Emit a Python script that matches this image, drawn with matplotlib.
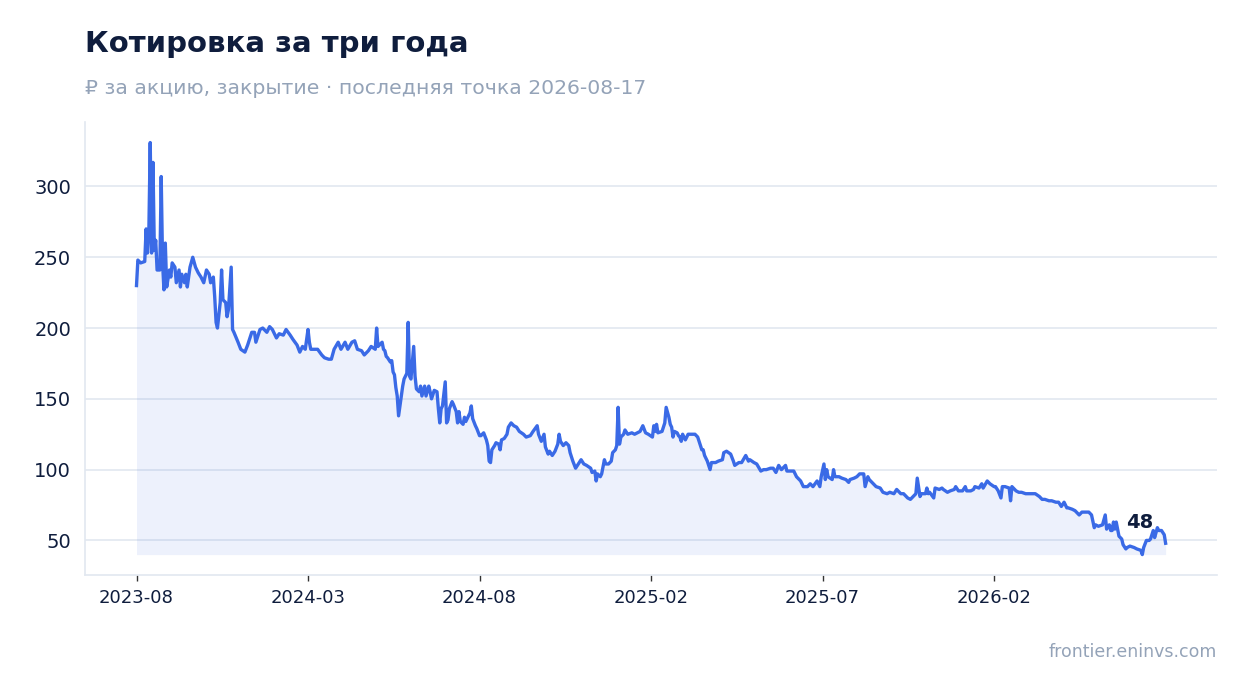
import numpy as np
import matplotlib
matplotlib.use("Agg")
import matplotlib.pyplot as plt

# торговые сессии (порядковый номер) и цена закрытия, ₽
session = [0, 1, 3, 6, 7, 8, 9, 10, 11, 12, 13, 14, 15, 17, 18, 19, 20, 21, 22, 24,
           25, 26, 28, 29, 31, 32, 33, 35, 36, 37, 39, 41, 43, 45, 47, 49, 51, 53, 54, 56,
           57, 58, 59, 61, 62, 63, 65, 66, 67, 69, 70, 71, 74, 76, 79, 81, 84, 86, 87, 90,
           92, 95, 97, 99, 102, 104, 107, 109, 112, 114, 117, 119, 121, 123, 125, 126, 127, 130, 132, 135,
           137, 140, 142, 144, 147, 149, 152, 154, 157, 159, 161, 164, 166, 169, 171, 174, 175, 176, 179, 180,
           181, 182, 183, 185, 186, 187, 188, 189, 190, 191, 193, 194, 195, 197, 198, 199, 200, 202, 203, 204,
           206, 207, 208, 210, 211, 213, 214, 215, 217, 219, 220, 221, 222, 223, 225, 226, 227, 228, 230, 231,
           233, 234, 235, 236, 238, 239, 240, 242, 243, 244, 245, 247, 248, 250, 251, 253, 255, 256, 257, 258,
           259, 261, 262, 264, 265, 266, 268, 270, 271, 273, 275, 277, 279, 282, 284, 287, 289, 292, 293, 295,
           297, 298, 300, 301, 303, 305, 307, 308, 309, 311, 313, 315, 316, 318, 320, 322, 324, 326, 328, 331,
           332, 334, 335, 336, 338, 339, 341, 342, 344, 346, 347, 349, 350, 351, 352, 353, 355, 356, 358, 361,
           363, 365, 367, 369, 371, 373, 376, 377, 378, 379, 380, 383, 385, 386, 388, 389, 390, 391, 392, 394,
           395, 396, 397, 398, 400, 402, 405, 407, 409, 412, 413, 414, 416, 417, 418, 419, 422, 424, 427, 428,
           430, 433, 435, 436, 439, 441, 444, 446, 447, 450, 452, 455, 457, 459, 462, 464, 466, 468, 470, 473,
           474, 476, 479, 481, 484, 486, 489, 491, 493, 496, 498, 499, 501, 502, 503, 504, 507, 508, 509, 512,
           514, 517, 519, 520, 523, 525, 527, 530, 531, 533, 534, 537, 539, 542, 544, 547, 549, 552, 554, 557,
           559, 562, 564, 566, 568, 569, 571, 572, 575, 576, 577, 578, 581, 582, 585, 587, 588, 591, 593, 596,
           597, 599, 602, 604, 605, 608, 610, 611, 614, 616, 617, 620, 622, 625, 626, 628, 630, 631, 633, 636,
           637, 638, 641, 643, 645, 648, 650, 653, 655, 658, 660, 662, 665, 667, 670, 672, 674, 676, 678, 679,
           682, 684, 687, 689, 692, 694, 696, 698, 699, 701, 704, 706, 707, 709, 710, 711, 712, 713, 714, 716,
           717, 718, 719, 721, 722, 724, 727, 729, 732, 733, 734, 736, 738, 739, 741, 742, 744, 745, 747, 749,
           750]
close = [230, 248, 246, 247, 270, 253, 268, 331, 253, 317, 255, 262, 241, 241, 307, 246, 227, 260, 229, 241,
         236, 246, 243, 232, 241, 229, 238, 232, 238, 229, 243, 250, 243, 239, 236, 232, 241, 238, 232, 236,
         222, 204, 200, 218, 241, 220, 218, 208, 213, 243, 199, 197, 190, 185, 183, 188, 197, 197, 190, 199,
         200, 197, 201, 199, 193, 196, 195, 199, 195, 192, 188, 183, 187, 185, 199, 190, 185, 185, 185, 181,
         179, 178, 178, 185, 190, 185, 190, 185, 190, 191, 185, 184, 181, 184, 187, 185, 200, 187, 190, 185,
         184, 180, 179, 176, 177, 169, 167, 158, 152, 138, 152, 159, 164, 168, 204, 166, 164, 187, 166, 157,
         155, 159, 152, 159, 152, 159, 155, 150, 156, 155, 143, 133, 143, 145, 162, 133, 135, 143, 148, 146,
         141, 133, 141, 134, 132, 137, 134, 138, 140, 145, 136, 131, 129, 124, 124, 126, 121, 117, 106, 105,
         114, 117, 119, 118, 114, 121, 122, 125, 130, 133, 131, 130, 127, 125, 123, 124, 127, 131, 125, 120,
         125, 116, 111, 113, 110, 113, 118, 125, 120, 117, 119, 117, 112, 106, 101, 104, 107, 104, 103, 101,
         98, 99, 92, 97, 95, 97, 107, 104, 104, 106, 112, 114, 117, 144, 118, 123, 125, 128, 125, 126,
         125, 126, 127, 131, 126, 125, 123, 131, 127, 132, 126, 127, 133, 144, 137, 132, 130, 123, 127, 126,
         124, 123, 120, 125, 121, 125, 125, 125, 123, 114, 114, 110, 106, 103, 100, 105, 105, 106, 107, 112,
         113, 111, 106, 103, 105, 105, 110, 106, 107, 105, 104, 99, 100, 100, 101, 101, 98, 103, 100, 103,
         99, 99, 99, 95, 92, 88, 88, 90, 88, 92, 88, 95, 104, 93, 100, 95, 93, 100, 95, 95,
         94, 93, 91, 93, 94, 95, 97, 97, 88, 95, 93, 90, 88, 87, 84, 83, 84, 83, 86, 83,
         83, 80, 79, 81, 83, 94, 81, 83, 83, 87, 83, 84, 80, 87, 86, 87, 86, 84, 85, 86,
         88, 85, 85, 88, 85, 85, 86, 88, 87, 90, 87, 92, 90, 88, 88, 85, 80, 88, 88, 87,
         78, 88, 85, 84, 84, 83, 83, 83, 83, 81, 79, 79, 78, 78, 77, 77, 74, 77, 73, 73,
         72, 71, 68, 70, 70, 70, 68, 59, 61, 60, 61, 68, 58, 61, 57, 57, 63, 58, 63, 53,
         52, 51, 47, 44, 45, 46, 45, 44, 43, 40, 45, 50, 50, 51, 57, 52, 59, 57, 57, 54,
         48]

tick_pos = [0, 125, 250, 375, 500, 625]
tick_labels = ["2023-08", "2024-03", "2024-08", "2025-02", "2025-07", "2026-02"]

navy = "#0f1d3d"
blue = "#3a6ae6"
muted = "#94a3b8"
grid = "#e2e8f0"

fig = plt.figure(figsize=(12.47, 6.93), dpi=100)
ax = fig.add_axes([0.0682, 0.170, 0.9078, 0.654])

ax.fill_between(session, close, min(close), color=blue, alpha=0.09, linewidth=0)
ax.plot(session, close, color=blue, linewidth=2.4, solid_joinstyle="round")

ax.annotate(str(close[-1]), xy=(session[-1], close[-1]), xytext=(-19, 15),
            textcoords="offset points", ha="center", va="center",
            fontsize=14, fontweight="bold", color=navy)

ax.set_xticks(tick_pos)
ax.set_xticklabels(tick_labels)
ax.set_yticks([50, 100, 150, 200, 250, 300])
ax.grid(axis="y", color=grid, linewidth=1.2)
ax.set_axisbelow(True)
for side in ["top", "right"]:
    ax.spines[side].set_visible(False)
for side in ["left", "bottom"]:
    ax.spines[side].set_color(grid)
    ax.spines[side].set_linewidth(1.2)
ax.tick_params(axis="y", length=0, labelsize=14, labelcolor=navy, pad=10)
ax.tick_params(axis="x", length=4, width=1, color="#333333", labelsize=13, labelcolor=navy, pad=6)

fig.text(0.0682, 0.936, "Котировка за три года", fontsize=21, fontweight="bold",
         color=navy, ha="left", va="center")
fig.text(0.0682, 0.873, "₽ за акцию, закрытие · последняя точка 2026-08-17", fontsize=14.7,
         color=muted, ha="left", va="center")
fig.text(0.976, 0.059, "frontier.eninvs.com", fontsize=12.5, color=muted, ha="right", va="center")

fig.savefig("out.png", dpi=100)
